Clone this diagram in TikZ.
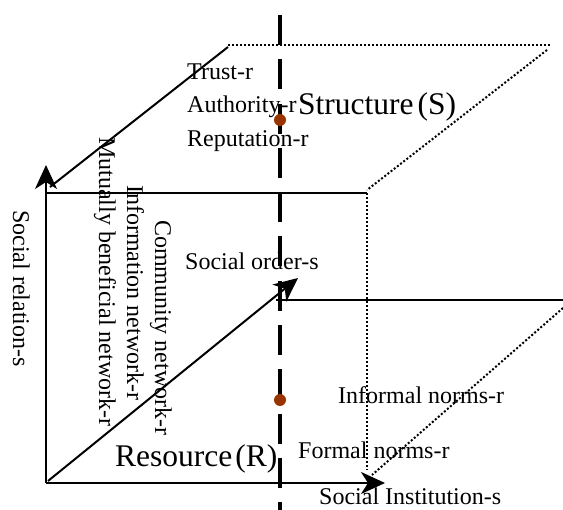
\documentclass[tikz,border=0pt]{standalone}
\usepackage{fontspec}
\setmainfont{Liberation Serif}
\usetikzlibrary{arrows.meta}
\definecolor{dotbrown}{RGB}{153,51,0}
\begin{document}
\begin{tikzpicture}[x=1pt,y=-1pt,
  lbl/.style={inner sep=0pt, anchor=base west, font=\fontsize{24}{28}\selectfont},
  big/.style={inner sep=0pt, anchor=base west, font=\fontsize{31.5}{36}\selectfont},
  vlbl/.style={lbl, rotate=-90},
  axisarrow/.style={line width=2pt, -{Stealth[length=24pt,width=22pt,inset=7pt]}},
  solidline/.style={line width=2pt},
  dotline/.style={line width=2pt, dash pattern=on 2pt off 2pt},
  dashline/.style={line width=3.2pt, dash pattern=on 30pt off 14.3pt},
  marker/.style={circle, fill=dotbrown, inner sep=0pt, minimum size=12pt}
]
\useasboundingbox (0,0) rectangle (563,510);

% coordinates
\coordinate (O) at (46,483);
\coordinate (Ytip) at (46,165);
\coordinate (Xtip) at (385,483);
\coordinate (FTL) at (46,193);
\coordinate (FTR) at (367,193);
\coordinate (FBR) at (367,470);
\coordinate (BTL) at (228,45);
\coordinate (BTR) at (550,45);
\coordinate (BTRd) at (547,50);
\coordinate (FTRd) at (367,190);
\coordinate (BTLs) at (228,47);
\coordinate (Dend) at (50,187);
\coordinate (Mstart) at (276,300);
\coordinate (Mend) at (563,300);
\coordinate (Rdiag) at (563,308);
\coordinate (Ldiag) at (372,475);
\coordinate (Dstart) at (48,481);
\coordinate (Dtip) at (298,278);
\coordinate (Vtop) at (280,15);
\coordinate (Vbot) at (280,512);

% box edges
\draw[solidline] (FTL) -- (FTR);
\draw[dotline] (FTR) -- (FBR);
\draw[dotline] (BTL) -- (BTR);
\draw[dotline] (BTRd) -- (FTRd);
\draw[solidline] (BTLs) -- (Dend);
\draw[solidline] (Mstart) -- (Mend);
\draw[dotline] (Rdiag) -- (Ldiag);

% axes
\draw[axisarrow] (O) -- (Ytip);
\draw[axisarrow] (O) -- (Xtip);
\draw[axisarrow] (Dstart) -- (Dtip);

% dashed vertical
\draw[dashline] (Vtop) -- (Vbot);

% dots
\node[marker] (m1) at (280,120) {};
\node[marker] (m2) at (280,400) {};

% labels
\node[lbl] (trust) at (187,80) {Trust-r};
\node[lbl] (auth) at (187,113) {Authority-r};
\node[lbl] (rep) at (187,147) {Reputation-r};
\node[big] (struct) at (298,115) {Structure\kern4pt(S)};
\node[lbl] (order) at (185,270) {Social order-s};
\node[lbl] (inf) at (338,404) {Informal norms-r};
\node[lbl] (form) at (298,459) {Formal norms-r};
\node[lbl] (inst) at (319,505) {Social Institution-s};
\node[big] (res) at (115,467) {Resource\kern3pt(R)};

\node[vlbl] (srel) at (13,210) {Social relation-s};
\node[vlbl] (mut) at (99,137) {Mutually beneficial network-r};
\node[vlbl] (info) at (127,185) {Information network-r};
\node[vlbl] (comm) at (155,220) {Community network-r};
\end{tikzpicture}
\end{document}
